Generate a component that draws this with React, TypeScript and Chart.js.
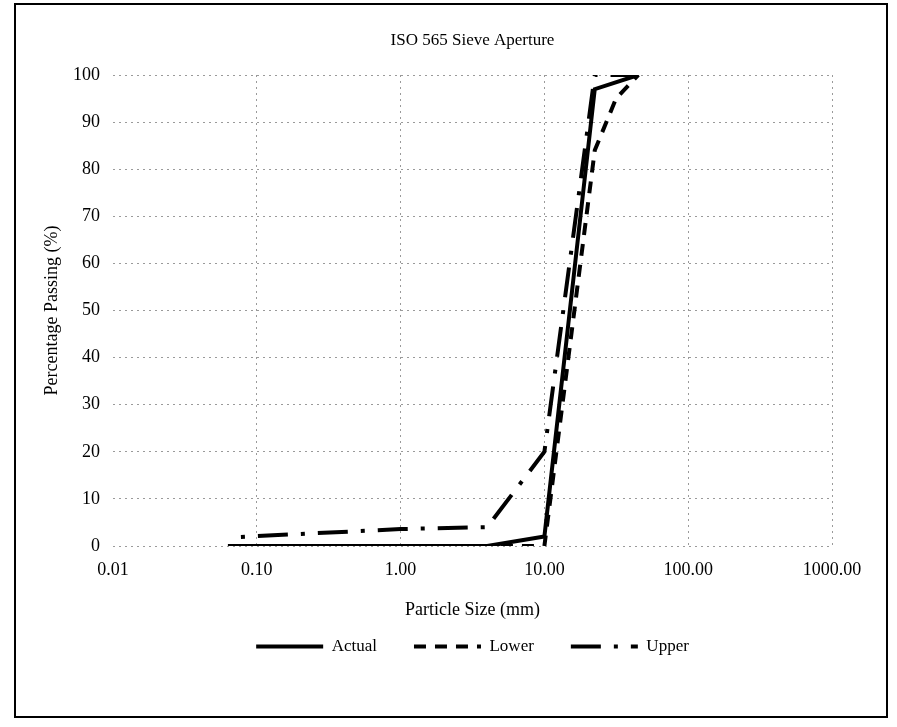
import React, { useEffect, useRef } from "react";
import { Chart, registerables } from "chart.js";

Chart.register(...registerables);

const chartTitle = "ISO 565 Sieve Aperture";
const xTitle = "Particle Size (mm)";
const yTitle = "Percentage Passing (%)";

const xTickValues = [0.01, 0.1, 1, 10, 100, 1000];

const actualSize = [0.063, 0.125, 0.25, 0.5, 1, 2, 4, 10, 22.4, 45];
const actualPassing = [0, 0, 0, 0, 0, 0, 0, 2, 97, 100];

const lowerSize = [0.063, 0.125, 0.25, 0.5, 1, 2, 4, 10, 22.4, 31.5, 45];
const lowerPassing = [0, 0, 0, 0, 0, 0, 0, 0, 84, 95, 100];

const upperSize = [0.063, 1, 4, 10, 22.4, 45];
const upperPassing = [1.8, 3.6, 4, 20, 100, 100];

const FONT = "'Liberation Serif', 'Times New Roman', serif";

function pts(xs: number[], ys: number[]) {
  return xs.map((x, i) => ({ x, y: ys[i] }));
}

export default function App() {
  const ref = useRef<HTMLCanvasElement | null>(null);

  useEffect(() => {
    if (!ref.current) return;
    Chart.defaults.font.family = FONT;
    Chart.defaults.color = "#000";
    const defaultGen = (Chart.defaults as any).plugins.legend.labels.generateLabels;
    const chart = new Chart(ref.current, {
      type: "line",
      data: {
        datasets: [
          {
            label: "Actual",
            data: pts(actualSize, actualPassing),
            borderColor: "#000",
            backgroundColor: "#000",
            borderWidth: 4,
            pointRadius: 0,
            tension: 0,
          },
          {
            label: "Lower",
            data: pts(lowerSize, lowerPassing),
            borderColor: "#000",
            backgroundColor: "#000",
            borderWidth: 4,
            borderDash: [12, 9],
            pointRadius: 0,
            tension: 0,
          },
          {
            label: "Upper",
            data: pts(upperSize, upperPassing),
            borderColor: "#000",
            backgroundColor: "#000",
            borderWidth: 4,
            borderDash: [30, 13, 4, 13],
            borderDashOffset: 30,
            pointRadius: 0,
            tension: 0,
          },
        ] as any,
      },
      options: {
        animation: false,
        responsive: true,
        maintainAspectRatio: false,
        layout: { padding: { left: 20, right: 65, top: 0, bottom: 62 } },
        plugins: {
          title: {
            display: true,
            text: chartTitle,
            fullSize: false,
            color: "#000",
            font: { family: FONT, size: 17, weight: "normal" },
            padding: { top: 30, bottom: 24.6 },
          },
          legend: {
            position: "bottom",
            fullSize: false,
            labels: {
              usePointStyle: true,
              pointStyle: "line",
              pointStyleWidth: 67,
              boxWidth: 67,
              padding: 37,
              color: "#000",
              font: { family: FONT, size: 17 },
              generateLabels: (c: any) => {
                const items = defaultGen(c);
                items.forEach((it: any) => {
                  const ds = c.data.datasets[it.datasetIndex];
                  it.lineDash = ds.borderDash || [];
                  it.lineDashOffset = 0;
                  it.lineWidth = 4;
                  it.strokeStyle = "#000";
                  it.fillStyle = "#000";
                  it.lineCap = "butt";
                });
                return items;
              },
            },
          },
          tooltip: { enabled: false },
        },
        scales: {
          x: {
            type: "logarithmic",
            min: 0.01,
            max: 1000,
            afterBuildTicks: (scale: any) => {
              scale.ticks = xTickValues.map((v) => ({ value: v }));
            },
            afterFit: (scale: any) => {
              scale.height = 55;
            },
            ticks: {
              autoSkip: false,
              maxRotation: 0,
              padding: 13,
              color: "#000",
              font: { family: FONT, size: 18 },
              callback: (v: any) => Number(v).toFixed(2),
            },
            grid: {
              drawTicks: false,
              color: (ctx: any) => (ctx.index === 0 ? "rgba(0,0,0,0)" : "#9a9a9a"),
              lineWidth: 1,
            },
            border: { display: false, dash: [2, 4] },
            title: {
              display: true,
              text: xTitle,
              color: "#000",
              font: { family: FONT, size: 18 },
              padding: { top: 0, bottom: -19.8 },
            },
          },
          y: {
            min: 0,
            max: 100,
            afterFit: (scale: any) => {
              scale.width = 93;
            },
            ticks: {
              stepSize: 10,
              padding: 13,
              color: "#000",
              font: { family: FONT, size: 18 },
            },
            grid: {
              drawTicks: false,
              color: "#9a9a9a",
              lineWidth: 1,
            },
            border: { display: false, dash: [2, 4] },
            title: {
              display: true,
              text: yTitle,
              color: "#000",
              font: { family: FONT, size: 18 },
              padding: { top: 21, bottom: 0 },
            },
          },
        },
      } as any,
    });
    return () => chart.destroy();
  }, []);

  return (
    <div style={{ position: "fixed", left: 0, top: 0, width: 897, height: 727, background: "#fff" }}>
      <canvas ref={ref} />
      <div
        style={{
          position: "absolute",
          left: 14,
          top: 3,
          width: 870,
          height: 711,
          border: "2px solid #000",
          pointerEvents: "none",
        }}
      />
    </div>
  );
}
